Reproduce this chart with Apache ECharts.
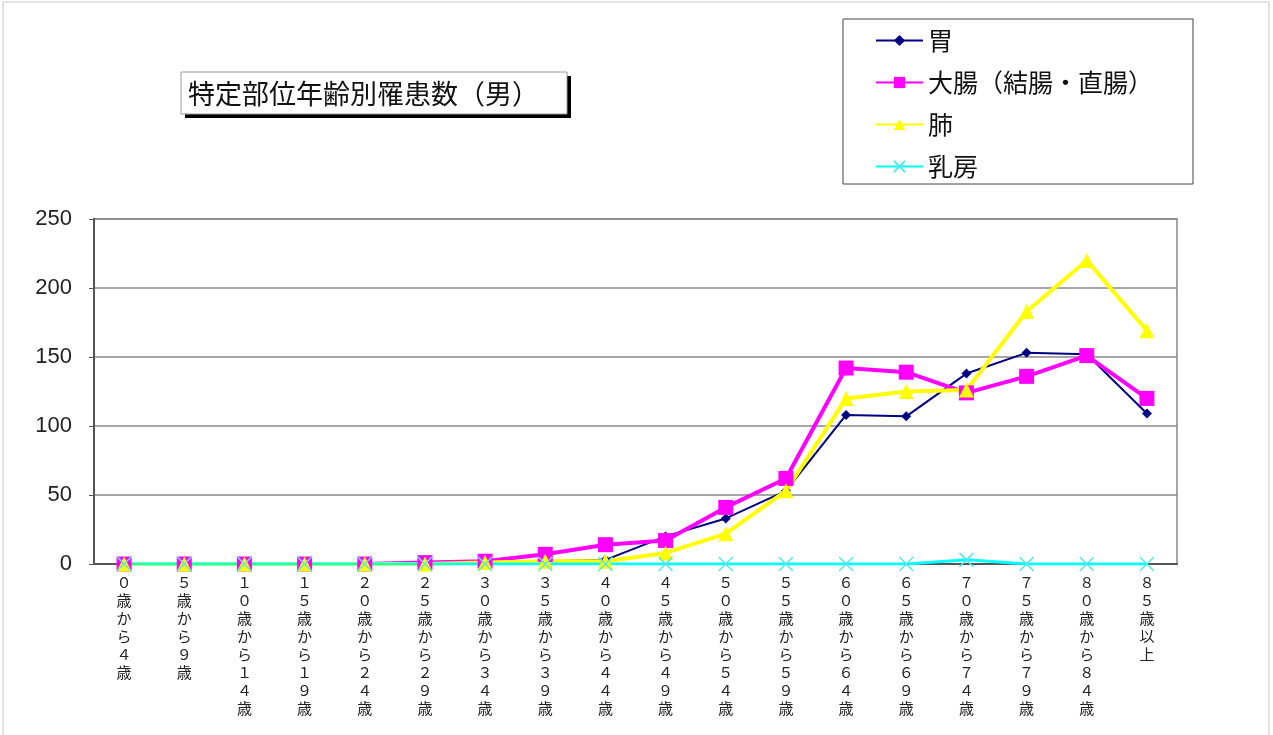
<!DOCTYPE html>
<html><head><meta charset="utf-8">
<script src="https://cdn.jsdelivr.net/npm/echarts@6/dist/echarts.min.js"></script>
<style>html,body{margin:0;padding:0;background:#fff}#c{width:1273px;height:735px}</style>
</head><body><div id="c"></div>
<script>
const categories = ['０歳から４歳','５歳から９歳','１０歳から１４歳','１５歳から１９歳','２０歳から２４歳','２５歳から２９歳','３０歳から３４歳','３５歳から３９歳','４０歳から４４歳','４５歳から４９歳','５０歳から５４歳','５５歳から５９歳','６０歳から６４歳','６５歳から６９歳','７０歳から７４歳','７５歳から７９歳','８０歳から８４歳','８５歳以上'];
const stomach    = [0,0,0,0,0,1,1,2,3,20,33,53,108,107,138,153,152,109];
const colorectal = [0,0,0,0,0,1,2,7,14,17,41,62,142,139,124,136,151,120];
const lung       = [0,0,0,0,0,0,1,2,2,8,22,53,120,125,126,183,220,169];
const breast     = [0,0,0,0,0,0,0,0,0,0,0,0,0,0,3,0,0,0];
const yTicks = {min:0, max:250, interval:50};
const titleText = '特定部位年齢別罹患数（男）';

const jp = '"Noto Sans CJK JP", sans-serif';
const chart = echarts.init(document.getElementById('c'));
chart.setOption({
  backgroundColor:'#fff',
  animation:false,
  graphic:[
    {type:'rect', shape:{x:3,y:2,width:1266,height:760}, style:{fill:'none', stroke:'#c8c8c8', lineWidth:1}, silent:true, z:0},
    {type:'rect', shape:{x:185,y:76,width:386,height:42}, style:{fill:'#000'}, silent:true, z:10},
    {type:'rect', shape:{x:181,y:72,width:386,height:42}, style:{fill:'#fff', stroke:'#999', lineWidth:1}, silent:true, z:11},
    {type:'text', x:188, y:94, style:{text:titleText, font:'27px "Noto Sans CJK JP"', fill:'#111', textVerticalAlign:'middle', textAlign:'left'}, silent:true, z:12}
  ],
  legend:{orient:'vertical', left:843, top:19, padding:[9,40,5,32], itemGap:17,
    itemWidth:47, itemHeight:14, borderColor:'#444', borderWidth:1, backgroundColor:'#fff',
    textStyle:{fontFamily:jp, fontSize:25, color:'#111'},
    data:['胃','大腸（結腸・直腸）','肺','乳房']},
  grid:{left:94, right:96, top:219, bottom:171, show:true, borderColor:'#888', borderWidth:1.5},
  xAxis:{type:'category', data:categories, boundaryGap:true,
    axisLine:{lineStyle:{color:'#555', width:2}},
    axisTick:{inside:true, length:4, lineStyle:{color:'#555'}},
    axisLabel:{interval:0, fontFamily:jp, fontSize:15, lineHeight:18, color:'#222', margin:9,
      formatter:v=>v.split('').join('\n')}},
  yAxis:{type:'value', min:yTicks.min, max:yTicks.max, interval:yTicks.interval,
    axisLine:{show:true, lineStyle:{color:'#555', width:2}},
    axisTick:{show:true, inside:false, length:5, lineStyle:{color:'#555'}},
    splitLine:{lineStyle:{color:'#888', width:1.5}},
    axisLabel:{fontFamily:'"Liberation Sans", Arial, sans-serif', fontSize:22, color:'#222', margin:22}},
  series:[
    {name:'胃', type:'line', data:stomach, symbol:'diamond', symbolSize:10, showAllSymbol:true,
      lineStyle:{color:'#000080', width:2}, itemStyle:{color:'#000080'}},
    {name:'大腸（結腸・直腸）', type:'line', data:colorectal, symbol:'rect', symbolSize:15, showAllSymbol:true,
      lineStyle:{color:'#FF00FF', width:4}, itemStyle:{color:'#FF00FF'}},
    {name:'肺', type:'line', data:lung, symbol:'triangle', symbolSize:15, showAllSymbol:true,
      lineStyle:{color:'#FFFF00', width:4}, itemStyle:{color:'#FFFF00'}},
    {name:'乳房', type:'line', data:breast, symbol:'path://M0,0L10,10M10,0L0,10', symbolSize:14, showAllSymbol:true,
      lineStyle:{color:'#00FFFF', width:3}, itemStyle:{color:'#00FFFF', borderColor:'#55E8E8', borderWidth:1.5}}
  ]
});
</script></body></html>
